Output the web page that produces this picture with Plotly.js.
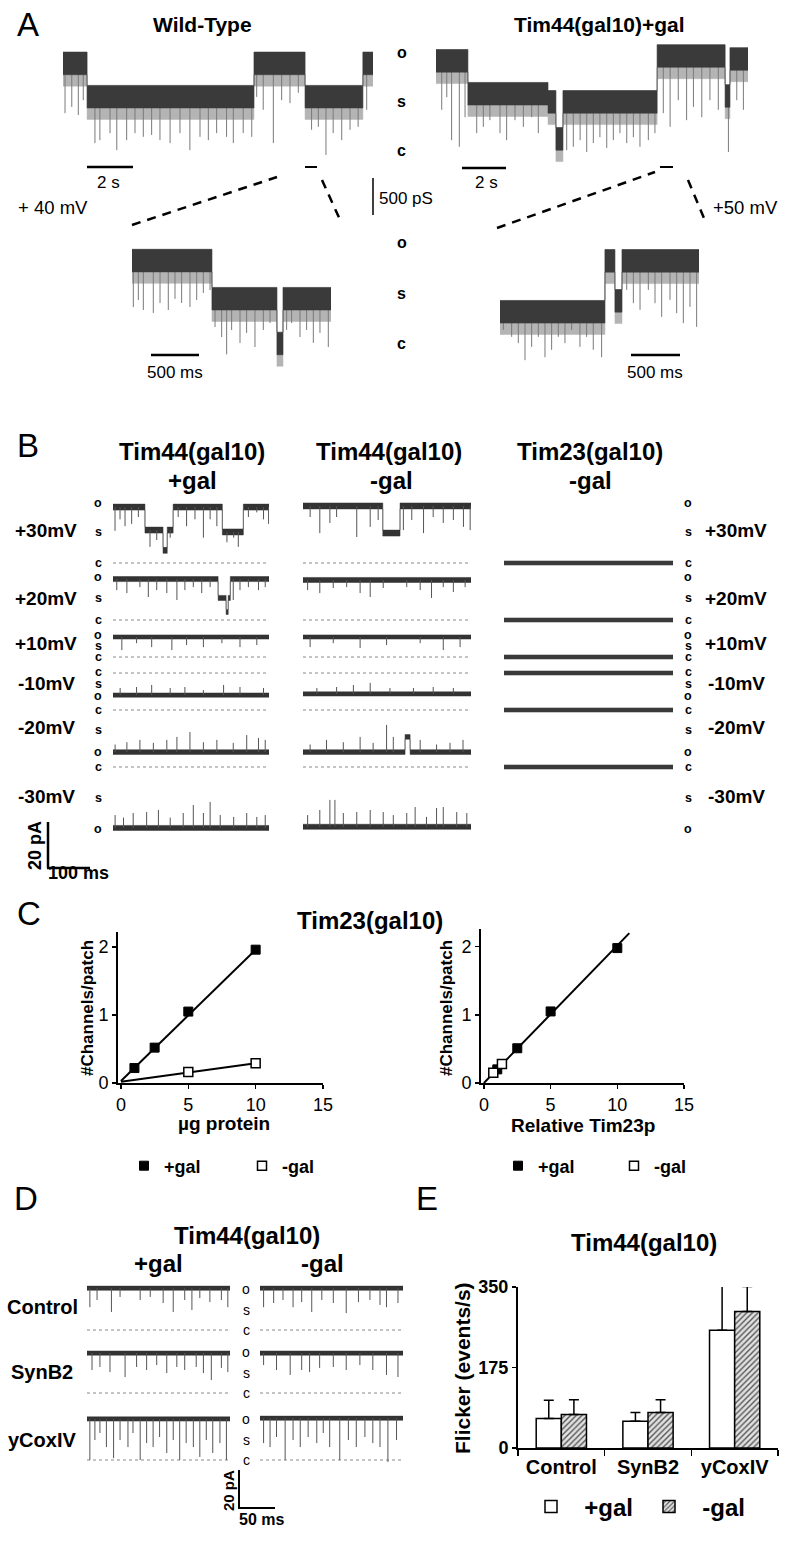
<!DOCTYPE html>
<html>
<head>
<meta charset="utf-8">
<script src="https://cdn.plot.ly/plotly-3.0.1.min.js"></script>
<style>
  body { margin: 0; background: #fff; }
  #fig { width: 800px; height: 1544px; }
</style>
</head>
<body>
<div id="fig"></div>
<script>
// ---------- values ----------
// Panel A: conductance records. Segments are [start, end, level in pS]; flickers are [time, lowest pS].
const aWtSegs = [[0, 1.07, 1180], [1.07, 8.49, 730], [8.49, 10.76, 1180], [10.76, 13.33, 730], [13.33, 13.78, 1180]];
const aWtFlicks = [[0.09, 525], [0.39, 610], [0.68, 500], [0.9, 700], [1.42, 120], [1.64, 160], [2.09, 255], [2.39, 25],
  [2.83, 160], [3.2, 255], [3.57, 205], [3.94, 230], [4.31, 160], [4.76, 120], [5.2, 255], [5.64, 25], [6.09, 205],
  [6.46, 160], [6.83, 255], [7.27, 205], [7.57, 120], [8.01, 255], [8.39, 205], [8.61, 745], [8.9, 570], [9.35, 120],
  [9.72, 700], [10.09, 660], [10.46, 800], [11.05, 300], [11.35, 340], [11.69, -40], [12.01, 255], [12.39, 160],
  [12.76, 300], [13.12, 340], [13.5, 570]];
const aTimSegs = [[0, 1.45, 1215], [1.45, 5.09, 770], [5.09, 5.45, 660], [5.45, 5.77, 160], [5.77, 10.05, 660],
  [10.05, 13.14, 1280], [13.14, 13.36, 740], [13.36, 14.18, 1240]];
const aTimFlicks = [[0.26, 570], [0.49, 740], [0.71, 160], [1.06, 70], [1.32, 470], [1.85, 255], [2.15, 340], [2.45, 430],
  [2.91, 255], [3.21, 160], [3.59, 430], [3.97, 340], [4.35, 470], [4.65, 255], [5.94, 25], [6.24, 70], [6.55, 160],
  [6.85, 0], [7.15, 120], [7.45, 200], [7.76, 55], [8.06, 160], [8.36, 255], [8.67, 120], [8.97, 200], [9.27, 70],
  [9.65, 160], [9.95, 255], [10.33, 525], [10.64, 340], [11.01, 700], [11.39, 430], [11.7, 610], [12.08, 470],
  [12.45, 700], [12.83, 570], [13.29, 0], [13.67, 700], [13.97, 570]];
// expanded records, time in ms
const aWtZoomSegs = [[0, 833, 1150], [833, 1510, 635], [1510, 1573, 30], [1573, 2073, 635]];
const aWtZoomFlicks = [[14, 540], [66, 635], [118, 500], [222, 460], [292, 595], [378, 500], [448, 650], [517, 595],
  [604, 540], [674, 635], [743, 730], [813, 770], [865, 270], [934, 135], [986, -100], [1038, 230], [1125, 55],
  [1194, 190], [1281, 0], [1368, 230], [1438, 325], [1611, 230], [1663, 325], [1750, 135], [1819, 230], [1889, 55],
  [1958, 190], [2045, 0]];
const aTimZoomSegs = [[0, 1071, 567], [1071, 1173, 1255], [1173, 1245, 715], [1245, 2031, 1255]];
const aTimZoomFlicks = [[34, 340], [119, 245], [187, 160], [255, -70], [323, 110], [391, 245], [459, -30], [527, 70],
  [595, 245], [663, 160], [731, 340], [816, 110], [884, 245], [952, 70], [1037, -30], [1293, 880], [1361, 700],
  [1429, 610], [1514, 880], [1582, 700], [1650, 515], [1735, 745], [1803, 565], [1871, 430], [1939, 650], [2007, 380]];

// Panel B: current records per voltage row, time in ms, current in pA
const bVoltages = ['+30mV', '+20mV', '+10mV', '-10mV', '-20mV', '-30mV'];
const bPlusGalSegs = [
  [[0, 76, 24.3], [76, 119, 14.3], [119, 129, 5.5], [129, 143, 14.3], [143, 260, 24.3], [260, 310, 13.5], [310, 371, 24.3]],
  [[0, 250, 17.8], [250, 269, 9.6], [269, 274, 3.5], [274, 279, 9.6], [279, 371, 17.8]],
  [[0, 371, 8.7]],
  [[0, 371, -9.6]],
  [[0, 371, -18.3]],
  [[0, 371, -26.5]],
];
const bPlusGalFlicks = [
  [[4.8, 14], [16.7, 19], [28.6, 16], [44.4, 17], [60.3, 20], [88, 7], [104, 10], [136, 11], [155, 20], [175, 16],
    [195, 19], [215, 11], [231, 19], [247, 16], [271, 9], [287, 11], [298, 7], [322, 20], [342, 22], [358, 19], [370, 17]],
  [[9, 13], [33, 11.7], [64, 14.3], [84, 10], [104, 13], [128, 11.7], [152, 8.7], [171, 13], [191, 14.3], [211, 11.7],
    [231, 14.3], [286, 8.7], [302, 13], [322, 14.3], [346, 13], [362, 14.3]],
  [[21, 3], [56, 6], [92, 4.3], [140, 3], [175, 5.2], [215, 4.3], [259, 6], [302, 4.3], [342, 5.2]],
  [[17, -6.5], [56, -6.1], [92, -5.2], [136, -6.5], [171, -6.1], [215, -7.4], [263, -5.2], [302, -6.1], [358, -6.5]],
  [[5, -15], [33, -14], [64, -13], [96, -14.3], [128, -13], [152, -11.7], [183, -9.6], [215, -14], [247, -13],
    [286, -14.3], [318, -10.9], [346, -12.2], [362, -13]],
  [[5, -20.9], [25, -22], [48, -20], [80, -19.6], [108, -18.7], [136, -22], [167, -20], [191, -16.5], [215, -20],
    [231, -15.2], [255, -20.9], [287, -21.7], [318, -20], [342, -21.7], [362, -20.9]],
];
const bMinusGalSegs = [
  [[0, 190, 24.8], [190, 231, 13], [231, 400, 24.8]],
  [[0, 400, 17.4]],
  [[0, 400, 8.7]],
  [[0, 400, -9.1]],
  [[0, 243, -18.3], [243, 255, -11.7], [255, 400, -18.3]],
  [[0, 400, -26]],
];
const bMinusGalFlicks = [
  [[17, 20], [40, 13], [64, 17.4], [80, 20], [128, 11.3], [160, 15.7], [179, 18.7], [239, 14.3], [259, 18.7], [287, 13],
    [310, 20], [334, 17.4], [358, 18.7], [382, 15.7], [398, 14.3]],
  [[11, 13], [40, 11.7], [72, 13.9], [104, 14.3], [136, 11.7], [160, 10], [191, 13.9], [247, 14.3], [279, 13],
    [306, 9.6], [334, 14.3], [358, 12.2], [386, 14.3]],
  [[17, 4.3], [72, 6], [136, 3.9], [199, 5.2], [279, 6], [334, 3], [374, 4.3]],
  [[33, -6.5], [80, -6.1], [120, -5.2], [160, -4.3], [207, -6.5], [263, -6.5], [310, -6.1], [358, -6.5]],
  [[17, -15], [56, -13], [96, -14], [136, -11.7], [167, -14.3], [199, -6.5], [215, -11.7], [279, -13], [318, -15],
    [350, -14.3], [381, -13]],
  [[11, -20.9], [40, -18.7], [64, -14.3], [76, -14.3], [96, -20], [128, -19.6], [160, -18.7], [191, -19.6], [215, -20.9],
    [247, -20], [267, -17.4], [294, -21.7], [318, -17.8], [334, -17.4], [366, -19.6], [390, -20]],
];
const bTim23Segs = [[0, 400, 0]];

// Panel C
const cProtein = [1, 2.5, 5, 10];
const cPlusGal = [0.22, 0.52, 1.05, 1.96];
const cMinusProtein = [5, 10];
const cMinusGal = [0.16, 0.29];
const cPlusFitX = [0, 10];
const cPlusFitY = [0.03, 1.96];
const cMinusFitX = [0, 10];
const cMinusFitY = [0.02, 0.29];
const cRelPlusX = [1, 2.5, 5, 10];
const cRelPlusY = [0.2, 0.51, 1.05, 1.98];
const cRelMinusX = [0.7, 1.35];
const cRelMinusY = [0.15, 0.28];
const cRelFitX = [0, 10.9];
const cRelFitY = [0, 2.2];

// Panel D: time in ms, current in pA
const dRows = ['Control', 'SynB2', 'yCoxIV'];
const dPlusGalSegs = [[[0, 199, 22]], [[0, 199, 21]], [[0, 199, 21.6]]];
const dMinusGalSegs = [[[0, 199, 22]], [[0, 199, 21]], [[0, 199, 22]]];
const dPlusGalFlicks = [
  [[4, 12], [14, 15.8], [34, 9.5], [46, 17.4], [74, 15.8], [88, 17.4], [106, 14.2], [120, 9.5], [136, 15.8], [146, 10.5],
    [157, 16.8], [171, 14.7], [187, 15.8], [196, 12]],
  [[7, 12.1], [18, 13.7], [32, 11], [53, 8.4], [69, 13.7], [83, 12.1], [97, 14.7], [111, 10.5], [125, 13.7], [136, 12.1],
    [152, 13.7], [162, 10.5], [173, 6.8], [187, 13.2], [196, 11]],
  [[4, 0], [11, 10.5], [18, 14.2], [27, 6.8], [37, 1], [46, 10.5], [57, 6.8], [64, 14.2], [74, 0], [83, 8.9], [92, 6.8],
    [101, 12.1], [111, 3.7], [120, 10.5], [129, 0], [138, 8.9], [148, 6.8], [157, 1.6], [166, 10.5], [175, 3.7],
    [185, 8.9], [194, 0]],
];
const dMinusGalFlicks = [
  [[5, 12], [19, 14.2], [32, 15.8], [46, 12], [58, 14.7], [72, 9.5], [86, 15.8], [102, 14.2], [120, 8.9], [137, 14.7],
    [153, 15.8], [167, 13.2], [176, 12], [192, 14.2]],
  [[5, 14.7], [23, 12.1], [42, 9.5], [58, 12.1], [69, 11], [83, 13.2], [102, 13.7], [120, 12.1], [139, 14.7], [157, 12.1],
    [176, 9.5], [192, 8.4]],
  [[5, 8.9], [14, 6.8], [23, 12.1], [35, 0], [46, 10.5], [56, 6.8], [67, 12.1], [79, 8.9], [88, 14.2], [97, 6.8], [111, 0],
    [123, 10.5], [134, 6.8], [146, 12.1], [157, 8.9], [167, 6.8], [178, -1], [190, 10.5]],
];

// Panel E
const eCategories = ['Control', 'SynB2', 'yCoxIV'];
const ePlusGal = [64, 58, 256];
const eMinusGal = [73, 77, 297];
const ePlusErr = [40, 19, 100];
const eMinusErr = [32, 28, 54];

// ---------- page geometry ----------
const W = 800, H = 1544;
const FONT = 'Liberation Sans, Arial, Helvetica, sans-serif';
const px = (x) => x / W;
const py = (y) => 1 - y / H;

const traces = [];
const layout = {
  width: W,
  height: H,
  margin: { l: 0, r: 0, t: 0, b: 0 },
  paper_bgcolor: '#fff',
  plot_bgcolor: 'rgba(0,0,0,0)',
  font: { family: FONT, color: '#000' },
  showlegend: true,
  barmode: 'group',
  bargap: 0.42,
  bargroupgap: 0,
  annotations: [],
  shapes: [],
};

let axN = 0;
function newAxes(xDom, yDom, xRange, yRange, extra) {
  axN += 1;
  const s = axN === 1 ? '' : String(axN);
  layout['xaxis' + s] = Object.assign(
    { domain: xDom, range: xRange, anchor: 'y' + s, visible: false, fixedrange: true },
    extra ? extra.x : {}
  );
  layout['yaxis' + s] = Object.assign(
    { domain: yDom, range: yRange, anchor: 'x' + s, visible: false, fixedrange: true },
    extra ? extra.y : {}
  );
  return { x: 'x' + s, y: 'y' + s };
}

function levelAt(segs, t) {
  for (const [t0, t1, L] of segs) if (t >= t0 && t < t1) return L;
  return segs[segs.length - 1][2];
}

// one single-channel record: noise band around the dwell levels plus flicker lines
function recording(segs, flicks, g) {
  const tEnd = segs[segs.length - 1][1];
  const top = Math.max(0, g.span[0]);
  const bottom = Math.min(H, g.span[1]);
  const ax = newAxes(
    [px(g.x0), px(g.x1)],
    [py(bottom), py(top)],
    [0, tEnd],
    [(g.c - bottom) / g.ppu, (g.c - top) / g.ppu]
  );
  const common = { type: 'scatter', mode: 'lines', xaxis: ax.x, yaxis: ax.y, hoverinfo: 'skip', showlegend: false };
  if (g.dotted) {
    traces.push({ ...common, x: [0, tEnd], y: [0, 0], line: { color: '#8a8a8a', width: 1, dash: 'dot' } });
  }
  // each band: [offset below level, offset above level, colour]
  const bands = g.halo
    ? [[g.halo, g.hw, '#b4b4b4'], [g.hw * 0.8, g.hw, '#3a3a3a']]
    : [[g.hw, g.hw, g.bandColor || '#333']];
  bands.slice(0, 1).forEach(drawBand);
  if (flicks.length) {
    const fx = [], fy = [];
    flicks.forEach(([t, d]) => { fx.push(t, t, null); fy.push(levelAt(segs, t), d, null); });
    traces.push({ ...common, x: fx, y: fy, line: { color: g.flickColor || '#555', width: 1 } });
  }
  bands.slice(1).forEach(drawBand);

  function drawBand([lo, hi, col]) {
    const bx = [], by = [];
    segs.forEach(([t0, t1, L]) => { bx.push(t0, t1); by.push(L + hi, L + hi); });
    for (let i = segs.length - 1; i >= 0; i--) {
      const [t0, t1, L] = segs[i];
      bx.push(t1, t0);
      by.push(L - lo, L - lo);
    }
    bx.push(bx[0]);
    by.push(by[0]);
    traces.push({ ...common, x: bx, y: by, fill: 'toself', fillcolor: col, line: { color: col, width: 0.5 } });
  }
}

function label(text, x, y, size, o = {}) {
  layout.annotations.push({
    text, x: px(x), y: py(y), xref: 'paper', yref: 'paper', showarrow: false,
    xanchor: o.anchor || 'center', yanchor: 'middle', textangle: o.angle || 0,
    font: { family: FONT, size, color: '#000' },
  });
}

function rule(x0, y0, x1, y1, w, dash) {
  layout.shapes.push({
    type: 'line', xref: 'paper', yref: 'paper',
    x0: px(x0), y0: py(y0), x1: px(x1), y1: py(y1),
    line: { color: '#000', width: w, dash: dash || 'solid' },
  });
}

// ---------- panel A ----------
const aStyle = { ppu: 0.074, hw: 170, halo: 290, flickColor: '#7a7a7a' };
recording(aWtSegs, aWtFlicks, { ...aStyle, x0: 63, x1: 373, c: 152, span: [30, 170] });
recording(aTimSegs, aTimFlicks, { ...aStyle, x0: 436, x1: 748, c: 152, span: [30, 170] });
recording(aWtZoomSegs, aWtZoomFlicks, { ...aStyle, x0: 132, x1: 331, c: 347, span: [225, 372] });
recording(aTimZoomSegs, aTimZoomFlicks, { ...aStyle, x0: 500, x1: 699, c: 355, span: [225, 375] });

label('A', 28, 25, 33);
label('<b>Wild-Type</b>', 202, 25, 21);
label('<b>Tim44(gal10)+gal</b>', 599, 25, 21);
[['o', 52], ['s', 101], ['c', 150], ['o', 242], ['s', 293], ['c', 343]].forEach(([t, y]) => label('<b>' + t + '</b>', 402, y, 16));
label('2 s', 108, 183, 17);
label('2 s', 486, 183, 17);
label('+ 40 mV', 53, 207, 18.5);
label('+50 mV', 745, 207, 18.5);
label('500 pS', 377, 198, 17, { anchor: 'left' });
label('500 ms', 175, 373, 17);
label('500 ms', 655, 373, 17);

rule(87, 167, 133, 167, 2.5);
rule(305, 167, 317, 167, 2);
rule(462, 168, 506, 168, 2.5);
rule(660, 167, 673, 167, 2);
rule(373, 178, 373, 215, 1.5);
rule(151, 355, 199, 355, 2.5);
rule(631, 355, 680, 355, 2.5);
rule(132, 225, 277, 177, 2.5, '9px,7px');
rule(322, 180, 341, 222, 2.5, '9px,7px');
rule(497, 228, 655, 172, 2.5, '9px,7px');
rule(688, 180, 706, 223, 2.5, '9px,7px');

// ---------- panel B ----------
const bRowC = [563, 620, 657, 673, 710, 767];
const bRowHw = [1.3, 1.1, 0.9, 0.9, 1.0, 1.1];
bRowC.forEach((c, i) => {
  const span = [c - 75, c + 75];
  recording(bPlusGalSegs[i], bPlusGalFlicks[i], { x0: 113, x1: 269, c, ppu: 2.3, span, hw: bRowHw[i], dotted: true });
  recording(bMinusGalSegs[i], bMinusGalFlicks[i], { x0: 303, x1: 471, c, ppu: 2.3, span, hw: bRowHw[i], dotted: true });
  recording(bTim23Segs, [], { x0: 504, x1: 673, c, ppu: 2.3, span, hw: 0.9, bandColor: '#3a3a3a' });
});

label('B', 28, 445, 33);
label('<b>Tim44(gal10)</b>', 192, 452, 24);
label('<b>+gal</b>', 192, 480, 24);
label('<b>Tim44(gal10)</b>', 389, 452, 24);
label('<b>-gal</b>', 391, 480, 24);
label('<b>Tim23(gal10)</b>', 590, 452, 24);
label('<b>-gal</b>', 590, 480, 24);
const bVoltY = [530, 598, 644, 683, 727, 797];
bVoltages.forEach((v, i) => {
  label('<b>' + v + '</b>', 46, bVoltY[i], 19);
  label('<b>' + v + '</b>', 736, bVoltY[i], 19);
});
const bStateMarks = [['o', 503], ['s', 532], ['c', 563], ['o', 577], ['s', 598], ['c', 620], ['o', 635], ['s', 646],
  ['c', 657], ['c', 672], ['s', 684], ['o', 696], ['c', 710], ['s', 730], ['o', 752], ['c', 767], ['s', 798], ['o', 829]];
bStateMarks.forEach(([t, y]) => {
  label('<b>' + t + '</b>', 98, y, 12.5);
  label('<b>' + t + '</b>', 688, y, 12.5);
});
rule(48, 822, 48, 868, 2.5);
rule(47, 868, 90, 868, 2.5);
label('<b>20 pA</b>', 35, 846, 18, { angle: -90 });
label('<b>100 ms</b>', 78, 873, 18);

// ---------- panel C ----------
function cAxis(tickvals) {
  return {
    visible: true, showline: true, linecolor: '#000', linewidth: 2, showgrid: false, zeroline: false,
    ticks: 'outside', ticklen: 4, tickwidth: 1.5, tickcolor: '#000', tickvals,
    tickfont: { family: FONT, size: 18, color: '#000' },
  };
}
const cL = newAxes([px(118), px(323)], [py(1083), py(932)], [-0.22, 15], [0, 2.22],
  { x: cAxis([0, 5, 10, 15]), y: cAxis([0, 1, 2]) });
const cR = newAxes([px(481), px(684)], [py(1083), py(929)], [-0.22, 15], [0, 2.26],
  { x: cAxis([0, 5, 10, 15]), y: cAxis([0, 1, 2]) });

const fitLine = { type: 'scatter', mode: 'lines', line: { color: '#000', width: 2 }, showlegend: false, hoverinfo: 'skip' };
const filledSq = { symbol: 'square', size: 9, color: '#000', line: { color: '#000', width: 1 } };
const openSq = { symbol: 'square', size: 9, color: '#fff', line: { color: '#000', width: 1.5 } };
traces.push({ ...fitLine, x: cPlusFitX, y: cPlusFitY, xaxis: cL.x, yaxis: cL.y });
traces.push({ ...fitLine, x: cMinusFitX, y: cMinusFitY, xaxis: cL.x, yaxis: cL.y });
traces.push({ type: 'scatter', mode: 'markers', x: cProtein, y: cPlusGal, xaxis: cL.x, yaxis: cL.y,
  marker: filledSq, name: '<b>+gal</b>', legend: 'legend' });
traces.push({ type: 'scatter', mode: 'markers', x: cMinusProtein, y: cMinusGal, xaxis: cL.x, yaxis: cL.y,
  marker: openSq, name: '<b>-gal</b>', legend: 'legend' });
traces.push({ ...fitLine, x: cRelFitX, y: cRelFitY, xaxis: cR.x, yaxis: cR.y });
traces.push({ type: 'scatter', mode: 'markers', x: cRelPlusX, y: cRelPlusY, xaxis: cR.x, yaxis: cR.y,
  marker: filledSq, name: '<b>+gal</b>', legend: 'legend2' });
traces.push({ type: 'scatter', mode: 'markers', x: cRelMinusX, y: cRelMinusY, xaxis: cR.x, yaxis: cR.y,
  marker: openSq, name: '<b>-gal</b>', legend: 'legend2' });

const cLegend = {
  orientation: 'h', xanchor: 'left', yanchor: 'middle', y: py(1166), bgcolor: 'rgba(0,0,0,0)',
  font: { family: FONT, size: 18, color: '#000' }, entrywidth: 73, itemwidth: 30, tracegroupgap: 0,
};
layout.legend = { ...cLegend, x: px(124) };
layout.legend2 = { ...cLegend, x: px(498), entrywidth: 71 };

label('C', 29, 913, 33);
label('<b>Tim23(gal10)</b>', 370, 920, 24);
label('<b>#Channels/patch</b>', 87, 1008, 17, { angle: -90 });
label('<b>#Channels/patch</b>', 446, 1008, 17, { angle: -90 });
label('<b>µg protein</b>', 224, 1123, 19);
label('<b>Relative Tim23p</b>', 583, 1125, 19);

// ---------- panel D ----------
const dRowC = [1330, 1393, 1460];
dRowC.forEach((c, i) => {
  const span = [c - 70, c + 30];
  recording(dPlusGalSegs[i], dPlusGalFlicks[i], { x0: 87, x1: 230, c, ppu: 1.9, span, hw: 1.1, dotted: true });
  recording(dMinusGalSegs[i], dMinusGalFlicks[i], { x0: 260, x1: 403, c, ppu: 1.9, span, hw: 1.1, dotted: true });
});
label('D', 26, 1198, 33);
label('<b>Tim44(gal10)</b>', 247, 1235, 24);
label('<b>+gal</b>', 158, 1263, 24);
label('<b>-gal</b>', 322, 1263, 24);
const dRowY = [1307, 1372, 1440];
dRows.forEach((r, i) => label('<b>' + r + '</b>', 42, dRowY[i], 20));
dRowC.forEach((c) => {
  label('o', 246, c - 41, 14);
  label('s', 246, c - 20, 14);
  label('c', 246, c, 14);
});
rule(239, 1470, 239, 1508, 2);
rule(238, 1508, 275, 1508, 2);
label('<b>20 pA</b>', 228, 1490, 15, { angle: -90 });
label('<b>50 ms</b>', 261, 1519, 16);

// ---------- panel E ----------
const eAx = newAxes([px(518), px(778)], [py(1448), py(1287)], [-0.5, 2.5], [0, 350], {
  x: {
    visible: true, type: 'category', showline: true, linecolor: '#000', linewidth: 2, showgrid: false,
    ticks: 'outside', tickson: 'boundaries', ticklen: 6, tickwidth: 1.5, tickcolor: '#000', tickangle: 0,
    tickfont: { family: FONT, size: 20, color: '#000', weight: 'bold' },
  },
  y: {
    visible: true, showline: true, linecolor: '#000', linewidth: 2, showgrid: false, zeroline: false,
    ticks: 'outside', ticklen: 4, tickwidth: 1.5, tickcolor: '#000', tickvals: [0, 175, 350],
    tickfont: { family: FONT, size: 18, color: '#000', weight: 'bold' },
  },
});
const errStyle = { type: 'data', symmetric: false, arrayminus: [0, 0, 0], color: '#000', thickness: 1.5, width: 5 };
traces.push({
  type: 'bar', x: eCategories, y: ePlusGal, xaxis: eAx.x, yaxis: eAx.y, name: '\u00a0\u00a0<b>+gal</b>', legend: 'legend3',
  marker: { color: '#fff', line: { color: '#000', width: 1.5 } },
  error_y: { ...errStyle, array: ePlusErr }, hoverinfo: 'skip',
});
traces.push({
  type: 'bar', x: eCategories, y: eMinusGal, xaxis: eAx.x, yaxis: eAx.y, name: '\u00a0\u00a0<b>-gal</b>', legend: 'legend3',
  marker: {
    color: '#e2e2e2', line: { color: '#000', width: 1.5 },
    pattern: { shape: '/', fgcolor: '#555', bgcolor: '#e2e2e2', size: 4, solidity: 0.35 },
  },
  error_y: { ...errStyle, array: eMinusErr }, hoverinfo: 'skip',
});
layout.legend3 = {
  orientation: 'h', xanchor: 'left', yanchor: 'middle', x: px(531), y: py(1507), bgcolor: 'rgba(0,0,0,0)',
  font: { family: FONT, size: 24, color: '#000' }, entrywidth: 73, itemwidth: 30,
};
label('E', 427, 1198, 33);
label('<b>Tim44(gal10)</b>', 644, 1242, 24);
label('<b>Flicker (events/s)</b>', 462, 1368, 21, { angle: -90 });

Plotly.newPlot('fig', traces, layout, { staticPlot: true });
</script>
</body>
</html>
